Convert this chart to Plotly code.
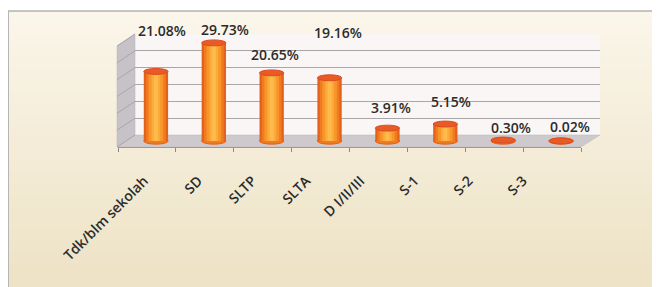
import plotly.graph_objects as go

categories = ["Tdk/blm sekolah", "SD", "SLTP", "SLTA", "D I/II/III", "S-1", "S-2", "S-3"]
values = [21.08, 29.73, 20.65, 19.16, 3.91, 5.15, 0.30, 0.02]
value_labels = ["21.08%", "29.73%", "20.65%", "19.16%", "3.91%", "5.15%", "0.30%", "0.02%"]

# label offsets (pixels) relative to bar tops, styling only
label_dy = [41, 13, 18, 45, 21, 23, 13, 14]
label_dx = [6, 11, 3, 8, 4, 6, 8, 9]

# page body has an 8px margin; map page pixel coordinates to paper
OX, OY = 8, 8
W, H = 652, 279
def px(x):
    return max(0.0, (x - OX) / W)
def py(y):
    return min(1.0, 1 - (y - OY) / H)

fig = go.Figure()
idx = list(range(len(categories)))

# back wall grid (dummy trace)
fig.add_trace(go.Scatter(x=[0], y=[0], xaxis="x", yaxis="y", mode="markers",
                         marker=dict(opacity=0), hoverinfo="skip", showlegend=False))

# cylinder bodies: overlaid bars of decreasing width for shading
shades = [(0.42, "#e4601c"), (0.34, "#f07c20"), (0.25, "#f8962c"), (0.15, "#fcaa3a"), (0.07, "#fdbb4c")]
for w, c in shades:
    fig.add_trace(go.Bar(x=idx, y=values, width=w, marker=dict(color=c, line=dict(width=0)),
                         xaxis="x2", yaxis="y2", showlegend=False, hoverinfo="skip"))

# tick marks axis and label axis dummies
fig.add_trace(go.Scatter(x=categories, y=[0] * len(categories), xaxis="x3", yaxis="y2", mode="markers",
                         marker=dict(opacity=0), hoverinfo="skip", showlegend=False))
fig.add_trace(go.Scatter(x=categories, y=[0] * len(categories), xaxis="x4", yaxis="y2", mode="markers",
                         marker=dict(opacity=0), hoverinfo="skip", showlegend=False))

shapes = []
# cream gradient background
top = (251, 246, 234)
bot = (238, 227, 198)
nb = 24
y0b = 11
ytot = OY + H
for k in range(nb):
    t = k / (nb - 1)
    col = "rgb(%d,%d,%d)" % tuple(int(top[j] + (bot[j] - top[j]) * t) for j in range(3))
    ya = y0b + (ytot - y0b) * k / nb
    yb = y0b + (ytot - y0b) * (k + 1) / nb + 1
    shapes.append(dict(type="rect", xref="paper", yref="paper", x0=0, x1=1, y0=max(0, py(yb)), y1=py(ya),
                       fillcolor=col, line=dict(width=0), layer="below"))
shapes.append(dict(type="line", xref="paper", yref="paper", x0=0, x1=1, y0=py(11), y1=py(11),
                   line=dict(color="#8e8e8e", width=1.2), layer="below"))
shapes.append(dict(type="line", xref="paper", yref="paper", x0=0.5 / W, x1=0.5 / W, y0=py(11), y1=0,
                   line=dict(color="#b5b5b5", width=1), layer="below"))

# back wall
shapes.append(dict(type="rect", xref="paper", yref="paper", x0=px(135), x1=px(600), y0=py(135), y1=py(34),
                   fillcolor="#f9f6f5", line=dict(width=0), layer="below"))
# left wall
shapes.append(dict(type="path", xref="paper", yref="paper",
                   path="M %f %f L %f %f L %f %f L %f %f Z" % (px(117), py(46), px(135), py(34), px(135), py(135), px(117), py(147)),
                   fillcolor="#c6c2c7", line=dict(color="#b8b4b9", width=0.5), layer="below"))
# floor
shapes.append(dict(type="path", xref="paper", yref="paper",
                   path="M %f %f L %f %f L %f %f L %f %f Z" % (px(117), py(147), px(135), py(135), px(600), py(135), px(581), py(147)),
                   fillcolor="#cdc9cd", line=dict(color="#bdb9bd", width=0.5), layer="below"))
# side-wall gridline continuations
for k in range(7):
    gy = 135 - k * (101 / 6)
    shapes.append(dict(type="line", xref="paper", yref="paper", x0=px(117), y0=py(gy + 12), x1=px(135), y1=py(gy),
                       line=dict(color="#a9a6aa", width=1), layer="below"))

# cylinder bottoms and tops
for i, v in enumerate(values):
    shapes.append(dict(type="circle", xref="x2", yref="y2", x0=i - 0.21, x1=i + 0.21, y0=-0.95, y1=0.95,
                       fillcolor="#ee7a22", line=dict(color="#e4601c", width=1), layer="below"))
for i, v in enumerate(values):
    shapes.append(dict(type="circle", xref="x2", yref="y2", x0=i - 0.21, x1=i + 0.21, y0=v - 0.9, y1=v + 0.9,
                       fillcolor="#e85a26", line=dict(color="#dc4c1e", width=1), layer="above"))

annotations = []
for i, (v, t) in enumerate(zip(values, value_labels)):
    annotations.append(dict(x=i, y=v, xref="x2", yref="y2", text=t, showarrow=False,
                            xshift=label_dx[i], yshift=label_dy[i], yanchor="middle",
                            font=dict(family="Open Sans", size=14, weight=600, color="#2b2b2b")))

noauto = dict(automargin=False)
fig.update_layout(
    width=W, height=H,
    margin=dict(l=0, r=0, t=0, b=0, pad=0, autoexpand=False),
    paper_bgcolor="white", plot_bgcolor="rgba(0,0,0,0)",
    barmode="overlay",
    showlegend=False,
    shapes=shapes,
    annotations=annotations,
    xaxis=dict(domain=[px(135), px(600)], range=[0, 1], showgrid=False, showticklabels=False,
               zeroline=False, showline=False, ticks="", **noauto),
    yaxis=dict(domain=[py(135), py(34)], range=[0, 30], dtick=5, showgrid=True, gridcolor="#a9a6aa",
               gridwidth=1, showticklabels=False, zeroline=False, showline=False, ticks="", **noauto),
    xaxis2=dict(domain=[px(127), px(590)], range=[-0.5, 7.5], anchor="y2", showgrid=False,
                showticklabels=False, zeroline=False, showline=False, ticks="", **noauto),
    yaxis2=dict(domain=[py(145), py(35.4)], range=[-1.2, 32], anchor="x2", showgrid=False,
                showticklabels=False, zeroline=False, showline=False, ticks="", **noauto),
    xaxis3=dict(domain=[px(118), px(581)], range=[-0.5, 7.5], anchor="free", position=py(147),
                showgrid=False, showticklabels=False, zeroline=False, showline=True, linecolor="#9a9a9a",
                ticks="outside", ticklen=4, tickcolor="#8a8a8a", tickson="boundaries", type="category", **noauto),
    xaxis4=dict(domain=[px(117), px(550)], range=[-0.5, 7.5], anchor="free", position=py(169),
                showgrid=False, showticklabels=True, tickangle=-45, zeroline=False, showline=False,
                ticks="", type="category", **noauto,
                tickfont=dict(family="Open Sans", size=14, weight=600, color="#2b2b2b")),
)

fig.write_html("out.html")
